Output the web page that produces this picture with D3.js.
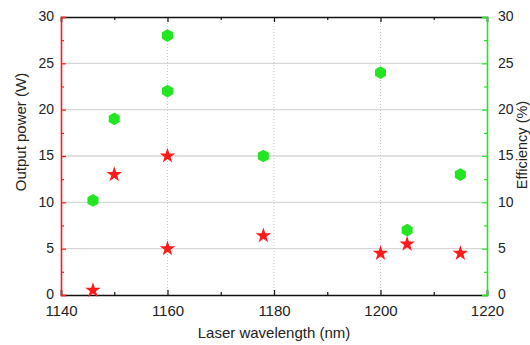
<!DOCTYPE html>
<html>
<head>
<meta charset="utf-8">
<script src="https://cdn.jsdelivr.net/npm/d3@7"></script>
<style>
  body { margin: 0; background: #fff; }
  text { font-family: "Liberation Sans", Arial, sans-serif; fill: #222; }
</style>
</head>
<body>
<div id="chart"></div>
<script>
// data
var wavelength = [1146, 1150, 1160, 1160, 1178, 1200, 1205, 1215];
var power = [0.5, 13, 15, 5, 6.4, 4.5, 5.5, 4.5];          // W
var efficiency = [10.2, 19, 28, 22, 15, 24, 7, 13];        // %
var xTicks = [1140, 1160, 1180, 1200, 1220];
var yTicks = [0, 5, 10, 15, 20, 25, 30];

var W = 530, H = 345;
var margin = { top: 17, right: 43, bottom: 50, left: 61 },
    width = W - margin.left - margin.right,
    height = H - margin.top - margin.bottom;

var RED = "#ff1a1a", GREEN = "#22e622";

var svg = d3.select("#chart").append("svg")
    .attr("width", W)
    .attr("height", H);

var g = svg.append("g")
    .attr("transform", "translate(" + margin.left + "," + margin.top + ")");

var x = d3.scaleLinear().domain([1140, 1220]).range([0, width]);
var yL = d3.scaleLinear().domain([0, 30]).range([height, 0]);
var yR = d3.scaleLinear().domain([0, 30]).range([height, 0]);

// grid
g.append("g").selectAll("line")
    .data(yTicks.filter(function(d) { return d > 0 && d < 30; }))
    .enter().append("line")
    .attr("x1", 0).attr("x2", width)
    .attr("y1", function(d) { return yL(d); })
    .attr("y2", function(d) { return yL(d); })
    .attr("stroke", "#d6d6d6")
    .attr("stroke-width", 1.3);

g.append("g").selectAll("line")
    .data(xTicks.filter(function(d) { return d > 1140 && d < 1220; }))
    .enter().append("line")
    .attr("x1", function(d) { return x(d); })
    .attr("x2", function(d) { return x(d); })
    .attr("y1", 0).attr("y2", height)
    .attr("stroke", "#bbb")
    .attr("stroke-width", 0.8)
    .attr("stroke-dasharray", "1,2");

// minor tick values
var xMinor = d3.range(1150, 1220, 20);
var yMinor = d3.range(2.5, 30, 5);

// bottom axis
var bottomAx = g.append("g")
    .attr("transform", "translate(0," + height + ")")
    .call(d3.axisBottom(x).tickValues(xTicks).tickSize(-5).tickPadding(10).tickFormat(d3.format("d")));
bottomAx.append("g").call(d3.axisBottom(x).tickValues(xMinor).tickSize(-3).tickFormat(""));

// top axis
var topAx = g.append("g")
    .call(d3.axisTop(x).tickValues(xTicks).tickSize(-5).tickFormat(""));
topAx.append("g").call(d3.axisTop(x).tickValues(xMinor).tickSize(-3).tickFormat(""));

[bottomAx, topAx].forEach(function(a) {
    a.selectAll(".domain").filter(function() { return this.parentNode !== a.node(); }).remove();
    a.selectAll("path.domain").attr("stroke", "#111").attr("stroke-width", 1.6);
    a.selectAll("line").attr("stroke", "#111").attr("stroke-width", 1.2);
});

// left axis (red)
var leftAx = g.append("g")
    .call(d3.axisLeft(yL).tickValues(yTicks).tickSize(-5).tickPadding(7));
leftAx.append("g").call(d3.axisLeft(yL).tickValues(yMinor).tickSize(-3).tickFormat(""));
leftAx.selectAll(".domain").filter(function() { return this.parentNode !== leftAx.node(); }).remove();
leftAx.selectAll("path.domain").attr("stroke", RED).attr("stroke-width", 1.6);
leftAx.selectAll("line").attr("stroke", RED).attr("stroke-width", 1.2);

// right axis (green)
var rightAx = g.append("g")
    .attr("transform", "translate(" + width + ",0)")
    .call(d3.axisRight(yR).tickValues(yTicks).tickSize(-5).tickPadding(11));
rightAx.append("g").call(d3.axisRight(yR).tickValues(yMinor).tickSize(-3).tickFormat(""));
rightAx.selectAll(".domain").filter(function() { return this.parentNode !== rightAx.node(); }).remove();
rightAx.selectAll("path.domain").attr("stroke", GREEN).attr("stroke-width", 1.6);
rightAx.selectAll("line").attr("stroke", GREEN).attr("stroke-width", 1.2);

svg.selectAll(".tick text")
    .style("font-family", "'Liberation Sans', Arial, sans-serif")
    .style("font-size", "14px")
    .attr("fill", "#222");
leftAx.selectAll(".tick text").attr("dy", "0.28em");
rightAx.selectAll(".tick text").attr("dy", "0.28em");
bottomAx.selectAll(".tick text").style("font-size", "15px");

// axis titles
svg.append("text")
    .attr("x", 274)
    .attr("y", 338)
    .attr("text-anchor", "middle")
    .style("font-size", "15px")
    .text("Laser wavelength (nm)");

svg.append("text")
    .attr("transform", "translate(26,132) rotate(-90)")
    .attr("text-anchor", "middle")
    .style("font-size", "15px")
    .text("Output power (W)");

svg.append("text")
    .attr("transform", "translate(527,145) rotate(-90)")
    .attr("text-anchor", "middle")
    .style("font-size", "14.5px")
    .text("Efficiency (%)");

// hexagon symbol
var hexagon = {
    draw: function(ctx, size) {
        var r = Math.sqrt(size / (1.5 * Math.sqrt(3)));
        for (var i = 0; i < 6; i++) {
            var a = Math.PI / 3 * i + Math.PI / 6;
            var px = r * Math.cos(a), py = r * Math.sin(a);
            if (i === 0) ctx.moveTo(px, py); else ctx.lineTo(px, py);
        }
        ctx.closePath();
    }
};

var pts = wavelength.map(function(w, i) {
    return { w: w, p: power[i], e: efficiency[i] };
});

g.append("g").selectAll("path")
    .data(pts)
    .enter().append("path")
    .attr("transform", function(d) { return "translate(" + x(d.w) + "," + yR(d.e) + ")"; })
    .attr("d", d3.symbol().type(hexagon).size(105))
    .attr("fill", GREEN);

g.append("g").selectAll("path")
    .data(pts)
    .enter().append("path")
    .attr("transform", function(d) { return "translate(" + x(d.w) + "," + yL(d.p) + ")"; })
    .attr("d", d3.symbol().type(d3.symbolStar).size(75))
    .attr("fill", RED);
</script>
</body>
</html>
